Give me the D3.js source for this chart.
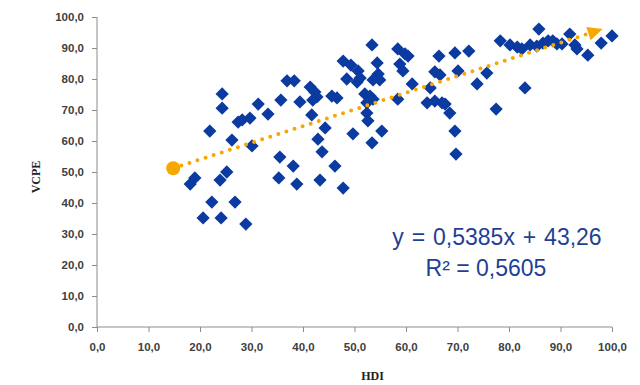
<!DOCTYPE html>
<html>
<head>
<meta charset="utf-8">
<script src="https://cdn.jsdelivr.net/npm/d3@7"></script>
<style>
  body { margin: 0; background: #fff; }
  svg { display: block; }
</style>
</head>
<body>
<div id="chart"></div>
<script>
// HDI (x) and VCPE (y) values
const hdi = [18.1, 19.0, 20.6, 22.3, 21.9, 24.3, 24.3, 24.1, 23.9, 25.2,
  26.8, 26.2, 27.4, 28.2, 29.7, 28.9, 30.1, 31.3, 33.2, 35.7,
  36.9, 38.3, 39.4, 35.5, 38.1, 35.3, 38.8, 41.4, 42.3, 42.7,
  41.9, 45.6, 46.6, 41.7, 44.3, 42.9, 43.7, 46.2, 43.3, 47.8,
  47.8, 49.3, 48.5, 49.7, 50.7, 51.1, 50.5, 53.4, 54.4, 54.6,
  53.6, 54.9, 52.0, 53.0, 53.6, 52.4, 52.4, 52.6, 55.3, 53.4,
  58.4, 59.8, 60.4, 58.8, 59.4, 58.4, 61.2, 64.7, 65.6, 66.6,
  66.4, 64.1, 65.6, 67.0, 67.6, 68.5, 69.5, 72.2, 70.1, 75.7,
  73.8, 69.5, 69.7, 77.5, 83.1, 78.3, 80.2, 81.6, 82.5, 84.1,
  85.4, 85.8, 86.6, 87.6, 88.5, 89.3, 90.3, 91.8, 92.8, 93.2,
  95.3, 97.9, 100.0];
const vcpe = [46.1, 48.1, 35.2, 40.3, 63.2, 75.2, 70.6, 35.2, 47.4, 50.0,
  40.3, 60.3, 66.1, 66.8, 67.4, 33.2, 58.4, 71.9, 68.7, 73.2,
  79.4, 79.4, 72.6, 54.8, 51.9, 48.1, 46.1, 77.4, 75.8, 74.2,
  73.2, 74.5, 73.9, 68.4, 64.2, 60.6, 56.5, 51.9, 47.4, 44.8,
  85.8, 84.5, 80.0, 62.3, 82.6, 80.3, 79.0, 91.0, 85.2, 81.6,
  79.7, 79.7, 75.2, 74.5, 73.5, 72.3, 69.0, 66.5, 63.2, 59.4,
  89.7, 88.1, 87.4, 84.8, 82.6, 73.5, 78.4, 77.1, 82.3, 81.3,
  87.4, 72.3, 72.9, 72.3, 71.9, 69.0, 88.4, 89.0, 82.6, 81.9,
  78.4, 63.2, 55.8, 70.3, 77.1, 92.3, 91.0, 90.3, 89.7, 91.0,
  90.6, 96.1, 91.6, 92.3, 92.3, 91.3, 91.3, 94.5, 91.0, 89.7,
  87.7, 91.6, 93.9];

const trendCoef = [0.5385, 43.26];      // slope, intercept
const trendRange = [14.8, 98.2];        // x extent of the drawn trendline
const eqLines = ["y = 0,5385x + 43,26", "R² = 0,5605"];
const ticks = [0, 10, 20, 30, 40, 50, 60, 70, 80, 90, 100];
const fmt = v => d3.format(".1f")(v).replace(".", ",");

const width = 640, height = 385;
const svg = d3.select("#chart").append("svg")
  .attr("width", width).attr("height", height);

const x = d3.scaleLinear().domain([0, 100]).range([97, 612]);
const y = d3.scaleLinear().domain([0, 100]).range([327, 17]);

const axisColor = "#8c8c8c";
const tickText = "#404040";

// y axis
const yAxis = svg.append("g")
  .attr("transform", `translate(${x(0)},0)`)
  .call(d3.axisLeft(y).tickValues(ticks).tickFormat(fmt).tickSize(5).tickPadding(8));
// x axis
const xAxis = svg.append("g")
  .attr("transform", `translate(0,${y(0)})`)
  .call(d3.axisBottom(x).tickValues(ticks).tickFormat(fmt).tickSize(5).tickPadding(11));

[yAxis, xAxis].forEach(g => {
  g.select(".domain").attr("stroke", axisColor).attr("stroke-width", 1);
  g.selectAll(".tick line").attr("stroke", axisColor);
  g.selectAll(".tick text")
    .attr("fill", tickText)
    .style("font-family", "'Liberation Sans', Arial, sans-serif")
    .style("font-weight", "bold")
    .style("font-size", "11.5px");
});
yAxis.select(".domain").attr("d", `M0,${y(100)}V${y(0)}`);
xAxis.select(".domain").attr("d", `M${x(0)},0H${x(100)}`);

// axis titles
svg.append("text")
  .attr("transform", `translate(40,${(y(0) + y(100)) / 2 + 5}) rotate(-90)`)
  .attr("text-anchor", "middle")
  .style("font-family", "'Liberation Serif', 'Times New Roman', serif")
  .style("font-weight", "bold")
  .style("font-size", "12px")
  .attr("fill", "#222")
  .text("VCPE");

svg.append("text")
  .attr("x", (x(0) + x(100)) / 2 + 18)
  .attr("y", 380)
  .attr("text-anchor", "middle")
  .style("font-family", "'Liberation Serif', 'Times New Roman', serif")
  .style("font-weight", "bold")
  .style("font-size", "12px")
  .attr("fill", "#222")
  .text("HDI");

// scatter points (diamonds)
const diamond = d3.symbol().type(d3.symbolSquare).size(88);
svg.append("g").selectAll("path")
  .data(d3.zip(hdi, vcpe))
  .enter()
  .append("path")
  .attr("d", diamond)
  .attr("transform", d => `translate(${x(d[0])},${y(d[1])}) rotate(45)`)
  .attr("fill", "#0b3aa0");

// trendline
const orange = "#f6a800";
const line = d3.line().x(d => x(d)).y(d => y(trendCoef[0] * d + trendCoef[1]));
const lineEnd = trendRange[1] - 1.8;
svg.append("path")
  .attr("d", line([trendRange[0], lineEnd]))
  .attr("stroke", orange)
  .attr("stroke-width", 4)
  .attr("stroke-linecap", "round")
  .attr("stroke-dasharray", "0 8.5")
  .attr("fill", "none");

svg.append("circle")
  .attr("cx", x(trendRange[0]))
  .attr("cy", y(trendCoef[0] * trendRange[0] + trendCoef[1]))
  .attr("r", 7)
  .attr("fill", orange);

// arrow head at the end
const ex = x(trendRange[1]), ey = y(trendCoef[0] * trendRange[1] + trendCoef[1]);
const ang = Math.atan2(ey - y(trendCoef[0] * trendRange[0] + trendCoef[1]), ex - x(trendRange[0])) * 180 / Math.PI;
svg.append("path")
  .attr("d", "M0,0L-15,-7L-15,7Z")
  .attr("transform", `translate(${ex},${ey}) rotate(${ang})`)
  .attr("fill", orange);

// equation
const eqColor = "#1f3f95";
svg.append("text")
  .attr("x", 497).attr("y", 245)
  .attr("text-anchor", "middle")
  .style("font-family", "'Liberation Sans', Arial, sans-serif")
  .style("font-size", "23px")
  .style("word-spacing", "1.5px")
  .attr("fill", eqColor)
  .text(eqLines[0]);
svg.append("text")
  .attr("x", 486).attr("y", 276)
  .attr("text-anchor", "middle")
  .style("font-family", "'Liberation Sans', Arial, sans-serif")
  .style("font-size", "23px")
  .attr("fill", eqColor)
  .text(eqLines[1]);
</script>
</body>
</html>
